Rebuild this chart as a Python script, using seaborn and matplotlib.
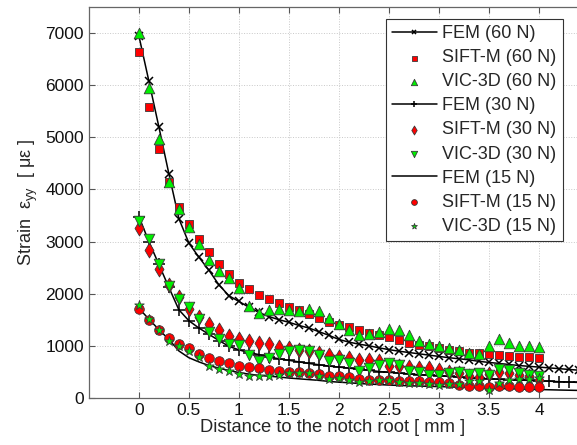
import numpy as np
import matplotlib
matplotlib.use('Agg')
import matplotlib.pyplot as plt
import seaborn as sns

# distance to notch root [mm]
dist_fem = np.round(np.arange(0, 4.41, 0.1), 1)
dist_exp = np.round(np.arange(0, 4.01, 0.1), 1)

fem_60 = [6950, 6080, 5200, 4300, 3440, 2970, 2700, 2450, 2170, 1960,
          1850, 1740, 1640, 1560, 1500, 1450, 1390, 1340, 1270, 1200,
          1120, 1070, 1030, 1000, 960, 925, 895, 870, 845, 820,
          795, 770, 750, 730, 700, 680, 660, 640, 620, 605,
          590, 575, 560, 545, 530]
sift_60 = [6630, 5590, 4780, 4150, 3670, 3330, 3050, 2800, 2560, 2370,
           2200, 2090, 1980, 1900, 1820, 1750, 1680, 1600, 1530, 1450,
           1390, 1360, 1300, 1240, 1200, 1160, 1110, 1060, 1020, 990,
           950, 910, 890, 870, 860, 850, 830, 810, 790, 780, 760]
vic_60 = [7000, 5940, 4960, 4150, 3630, 3280, 2950, 2640, 2430, 2300,
          2110, 1770, 1620, 1680, 1700, 1680, 1670, 1710, 1660, 1530,
          1420, 1310, 1210, 1220, 1260, 1320, 1300, 1210, 1100, 1040,
          1000, 955, 910, 860, 850, 1000, 1130, 1060, 1000, 1000, 970]

fem_30 = [3480, 3000, 2560, 2120, 1690, 1480, 1340, 1220, 1100, 990,
          920, 870, 830, 785, 750, 720, 690, 660, 635, 610,
          590, 570, 550, 530, 505, 490, 475, 460, 445, 435,
          425, 410, 400, 385, 375, 365, 355, 348, 340, 335,
          327, 320, 310, 303, 295]
sift_30 = [3260, 2830, 2470, 2170, 1940, 1710, 1560, 1420, 1295, 1190,
           1120, 1096, 1060, 1040, 980, 955, 910, 890, 860, 830,
           790, 765, 735, 720, 700, 620, 615, 590, 570, 570,
           540, 505, 475, 420, 400, 450, 500, 470, 440, 410, 350]
vic_30 = [3400, 3040, 2560, 2140, 1890, 1740, 1510, 1260, 1120, 1030,
          1020, 830, 700, 760, 850, 900, 910, 890, 830, 700,
          730, 670, 510, 570, 635, 670, 635, 510, 505, 445,
          440, 485, 505, 460, 475, 430, 550, 525, 475, 440, 410]

fem_15 = [1720, 1510, 1310, 1120, 900, 770, 690, 620, 570, 525,
          485, 455, 430, 415, 400, 380, 365, 350, 335, 315,
          300, 290, 275, 265, 255, 245, 238, 232, 226, 221,
          216, 210, 204, 198, 192, 186, 180, 175, 170, 165,
          160, 155, 150, 146, 142]
sift_15 = [1710, 1500, 1300, 1150, 1030, 960, 850, 770, 700, 670,
           620, 590, 570, 540, 520, 505, 500, 485, 455, 425,
           410, 395, 360, 345, 345, 340, 325, 315, 315, 310,
           295, 280, 250, 220, 220, 205, 230, 220, 205, 205, 205]
vic_15 = [1780, 1520, 1300, 1100, 1000, 900, 790, 620, 560, 520,
          460, 410, 410, 420, 440, 470, 485, 485, 425, 370,
          375, 350, 305, 315, 345, 335, 295, 280, 280, 270,
          250, 270, 270, 315, 315, 150, 280, 340, 355, 355, 380]

x_ticks = [0, 0.5, 1, 1.5, 2, 2.5, 3, 3.5, 4]
y_ticks = [0, 1000, 2000, 3000, 4000, 5000, 6000, 7000]

sns.set_style('ticks')
plt.rcParams['font.family'] = ['Liberation Sans', 'DejaVu Sans']
plt.rcParams['mathtext.default'] = 'regular'
plt.rcParams['xtick.direction'] = 'in'
plt.rcParams['ytick.direction'] = 'in'

RED = '#ff0000'
GREEN = '#00f000'
EDGE = '#3a3a3a'

fig = plt.figure(figsize=(5.77, 4.45), dpi=100)
ax = fig.add_axes([0.154, 0.106, 0.846, 0.878])

line_kw = dict(color='black', linewidth=1.1, errorbar=None, ax=ax)
sc_kw = dict(edgecolor=EDGE, linewidth=0.6, ax=ax, zorder=3)

sns.lineplot(x=dist_fem, y=fem_60, marker='x', markersize=6,
             markeredgewidth=1.1, markeredgecolor='black',
             label='FEM (60 N)', **line_kw)
sns.scatterplot(x=dist_exp, y=sift_60, marker='s', s=36, color=RED,
                label='SIFT-M (60 N)', **sc_kw)
sns.scatterplot(x=dist_exp, y=vic_60, marker='^', s=58, color=GREEN,
                label='VIC-3D (60 N)', **sc_kw)

sns.lineplot(x=dist_fem, y=fem_30, marker='+', markersize=8,
             markeredgewidth=1.1, markeredgecolor='black',
             label='FEM (30 N)', **line_kw)
sns.scatterplot(x=dist_exp, y=sift_30, marker='d', s=58, color=RED,
                label='SIFT-M (30 N)', **sc_kw)
sns.scatterplot(x=dist_exp, y=vic_30, marker='v', s=58, color=GREEN,
                label='VIC-3D (30 N)', **sc_kw)

sns.lineplot(x=dist_fem, y=fem_15, label='FEM (15 N)', **line_kw)
sns.scatterplot(x=dist_exp, y=sift_15, marker='o', s=48, color=RED,
                label='SIFT-M (15 N)', **sc_kw)
sns.scatterplot(x=dist_exp, y=vic_15, marker='*', s=52, color=GREEN,
                label='VIC-3D (15 N)', **sc_kw)

ax.set_xlim(-0.5, 4.38)
ax.set_ylim(0, 7500)
ax.set_xticks(x_ticks)
ax.set_xticklabels([f'{t:g}' for t in x_ticks])
ax.set_yticks(y_ticks)
ax.tick_params(axis='both', labelsize=12.5, length=4, width=0.8,
               color='#555555', top=True, labelcolor='#111111')
ax.grid(True, linestyle=':', color='#c8c8c8', linewidth=0.7)
for side in ['left', 'bottom', 'top']:
    ax.spines[side].set_color('#666666')
    ax.spines[side].set_linewidth(0.9)
ax.spines['right'].set_visible(False)

ax.set_xlabel('Distance to the notch root [ mm ]', fontsize=13.2, labelpad=1)
ax.set_ylabel('Strain  ε$_{yy}$  [ με ]', fontsize=13, labelpad=4)

leg = ax.legend(loc='upper right', bbox_to_anchor=(563 / 577, 1 - 19 / 445),
                bbox_transform=fig.transFigure,
                borderaxespad=0, fontsize=13, markerscale=0.6,
                handlelength=2.5, handletextpad=0.3, labelspacing=0.39,
                borderpad=0.35, fancybox=False, framealpha=1)
leg.get_frame().set_edgecolor('#333333')
leg.get_frame().set_linewidth(0.8)

plt.savefig('out.png', dpi=100)
plt.close(fig)
